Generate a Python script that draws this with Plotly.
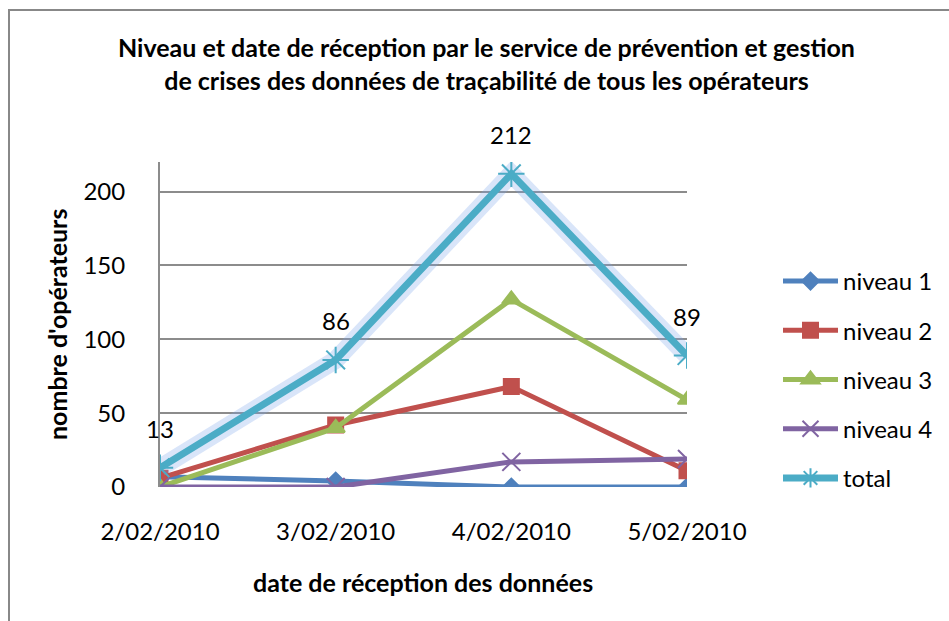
import plotly.graph_objects as go

dates = ["2/02/2010", "3/02/2010", "4/02/2010", "5/02/2010"]
niveau1 = [7, 4, 0, 0]
niveau2 = [6, 42, 68, 11]
niveau3 = [0, 40, 127, 59]
niveau4 = [0, 0, 17, 19]
total = [13, 86, 212, 89]
y_ticks = [0, 50, 100, 150, 200]

FONT = "Lato"
W, H = 949, 621
L, R, T, B = 160, 262, 162, 134
PW, PH = W - L - R, H - T - B

def px(x):
    return (x - L) / PW

def py(y):
    return (H - B - y) / PH

series = [
    ("niveau 1", niveau1, "#4F81BD", "diamond", 13, 5),
    ("niveau 2", niveau2, "#C0504D", "square", 15, 5),
    ("niveau 3", niveau3, "#9BBB59", "triangle-up", 16, 5),
    ("niveau 4", niveau4, "#8064A2", "x-thin", 18, 5),
]

fig = go.Figure()
for i, (name, vals, col, sym, size, lw) in enumerate(series):
    fig.add_trace(go.Scatter(
        x=dates, y=vals, name=name, mode="lines+markers",
        line=dict(color=col, width=lw),
        marker=dict(symbol=sym, size=size, color=col,
                    line=dict(color=col, width=2)),
        legendgroup=f"g{i}",
    ))

# glow under total
fig.add_trace(go.Scatter(
    x=dates, y=total, mode="lines", showlegend=False, hoverinfo="skip",
    line=dict(color="rgba(120,160,235,0.28)", width=18),
))
fig.add_trace(go.Scatter(
    x=dates, y=total, name="total", mode="lines+markers",
    line=dict(color="#4BACC6", width=7),
    marker=dict(symbol="asterisk-open", size=22, color="#4BACC6",
                line=dict(color="#4BACC6", width=2)),
    legendgroup="g5",
))

annotations = []
for d, v in zip(dates, total):
    annotations.append(dict(x=d, y=v, xref="x", yref="y", text=str(v),
                            showarrow=False, yshift=39,
                            xanchor="center", yanchor="middle",
                            font=dict(family=FONT, size=24, color="#000")))

annotations.append(dict(
    x=px(486), y=py(63.5), xref="paper", yref="paper", showarrow=False,
    xanchor="center", yanchor="middle",
    text="<b>Niveau et date de réception par le service de prévention et gestion<br>de crises des données de traçabilité de tous les opérateurs</b>",
    font=dict(family=FONT, size=25, color="#000"), align="center",
))
annotations.append(dict(
    x=px(57), y=py(325), xref="paper", yref="paper", showarrow=False,
    xanchor="center", yanchor="middle",
    text="<b>nombre d'opérateurs</b>", textangle=-90,
    font=dict(family=FONT, size=25, color="#000"),
))
annotations.append(dict(
    x=px(423), y=py(582), xref="paper", yref="paper", showarrow=False,
    xanchor="center", yanchor="middle",
    text="<b>date de réception des données</b>",
    font=dict(family=FONT, size=25, color="#000"),
))

shapes = [dict(type="rect", xref="paper", yref="paper",
               x0=px(9), x1=px(990), y0=py(660), y1=py(10),
               line=dict(color="#888888", width=2), layer="below")]

fig.update_layout(
    width=W, height=H,
    margin=dict(l=L, r=R, t=T, b=B, autoexpand=False),
    paper_bgcolor="white", plot_bgcolor="white",
    font=dict(family=FONT, size=24, color="#000"),
    showlegend=True,
    legend=dict(x=px(778), y=py(259), xanchor="left", yanchor="top",
                font=dict(family=FONT, size=24), tracegroupgap=15,
                traceorder="grouped", itemwidth=55,
                bgcolor="rgba(0,0,0,0)"),
    annotations=annotations,
    shapes=shapes,
)
fig.update_xaxes(
    type="category", range=[0, 3], showgrid=False,
    showline=False, zeroline=False, ticks="", ticklabelstandoff=28,
    tickfont=dict(family=FONT, size=24),
)
fig.update_yaxes(
    range=[0, 220], tickvals=y_ticks, showgrid=True,
    gridcolor="#8c8c8c", gridwidth=2, showline=True, linecolor="#8c8c8c",
    linewidth=2, zeroline=False, ticks="", ticklabelstandoff=28,
    tickfont=dict(family=FONT, size=24),
)

fig.write_html("out.html")
